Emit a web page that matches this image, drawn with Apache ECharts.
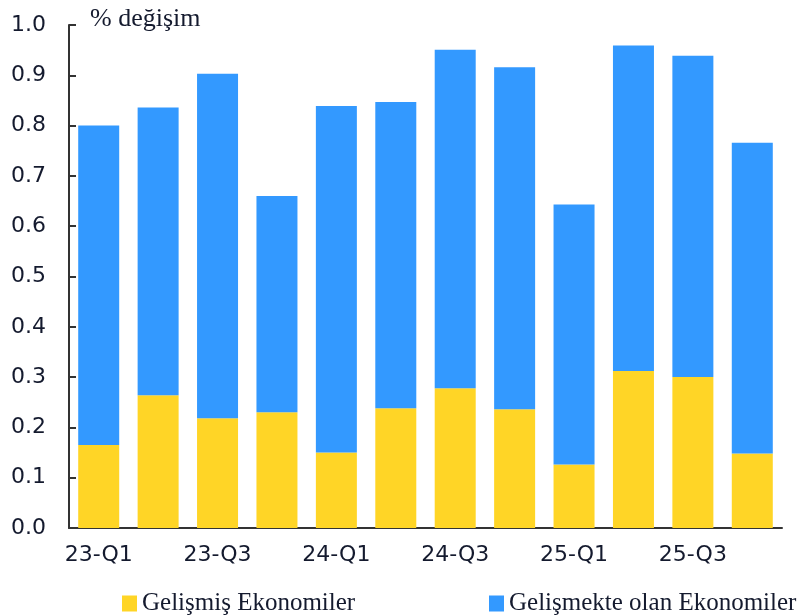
<!DOCTYPE html>
<html>
<head>
<meta charset="utf-8">
<script src="https://cdn.jsdelivr.net/npm/echarts@6/dist/echarts.min.js"></script>
<style>
  html, body { margin: 0; padding: 0; background: #fff; }
  #chart { width: 808px; height: 616px; }
</style>
</head>
<body>
<div id="chart"></div>
<script>
// ceyreklik donemler
var quarters = ["23-Q1", "23-Q2", "23-Q3", "23-Q4", "24-Q1", "24-Q2", "24-Q3", "24-Q4", "25-Q1", "25-Q2", "25-Q3", "25-Q4"];
// gelismis ekonomiler katkisi
var advanced = [0.165, 0.264, 0.218, 0.230, 0.150, 0.238, 0.278, 0.236, 0.126, 0.312, 0.300, 0.148];
// gelismekte olan ekonomiler katkisi
var emerging = [0.635, 0.572, 0.685, 0.430, 0.689, 0.609, 0.673, 0.680, 0.517, 0.647, 0.639, 0.618];
var yTicks = ["0.0", "0.1", "0.2", "0.3", "0.4", "0.5", "0.6", "0.7", "0.8", "0.9", "1.0"];

var textColor = "#141a2e";
var myChart = echarts.init(document.getElementById("chart"));

var option = {
  animation: false,
  title: {
    text: "% değişim",
    left: 85,
    top: 1,
    textStyle: {
      color: textColor,
      fontFamily: "Liberation Serif",
      fontSize: 26,
      fontWeight: "normal",
    },
  },
  legend: [
    {
      left: 117,
      top: 586,
      icon: "rect",
      itemWidth: 15,
      itemHeight: 16,
      itemGap: 6,
      data: ["Gelişmiş Ekonomiler"],
      textStyle: { color: textColor, fontFamily: "Liberation Serif", fontSize: 25 },
    },
    {
      left: 484,
      top: 586,
      icon: "rect",
      itemWidth: 15,
      itemHeight: 16,
      data: ["Gelişmekte olan Ekonomiler"],
      textStyle: { color: textColor, fontFamily: "Liberation Serif", fontSize: 25 },
    },
  ],
  grid: { left: 69, right: 26, top: 25, bottom: 88, containLabel: false },
  xAxis: {
    type: "category",
    data: quarters,
    axisLine: { lineStyle: { color: "#333", width: 2 } },
    axisTick: { inside: true, length: 7, lineStyle: { color: "#333", width: 2 } },
    axisLabel: {
      interval: 1,
      margin: 16,
      color: textColor,
      fontFamily: "DejaVu Sans",
      fontSize: 22,
    },
  },
  yAxis: {
    type: "value",
    min: 0,
    max: 1,
    interval: 0.1,
    splitLine: { show: false },
    axisLine: { show: true, lineStyle: { color: "#333", width: 2 } },
    axisTick: { show: true, inside: true, length: 7, lineStyle: { color: "#333", width: 2 } },
    axisLabel: {
      margin: 23,
      color: textColor,
      fontFamily: "DejaVu Sans",
      fontSize: 22,
      formatter: function (v) {
        return yTicks[Math.round(v * 10)];
      },
    },
  },
  series: [
    {
      name: "Gelişmiş Ekonomiler",
      type: "bar",
      stack: "toplam",
      barCategoryGap: "31%",
      itemStyle: { color: "#FFD526" },
      data: advanced,
    },
    {
      name: "Gelişmekte olan Ekonomiler",
      type: "bar",
      stack: "toplam",
      barCategoryGap: "31%",
      itemStyle: { color: "#3399FF" },
      data: emerging,
    },
  ],
};
if (option && typeof option === "object") {
  myChart.setOption(option, true);
}
</script>
</body>
</html>
